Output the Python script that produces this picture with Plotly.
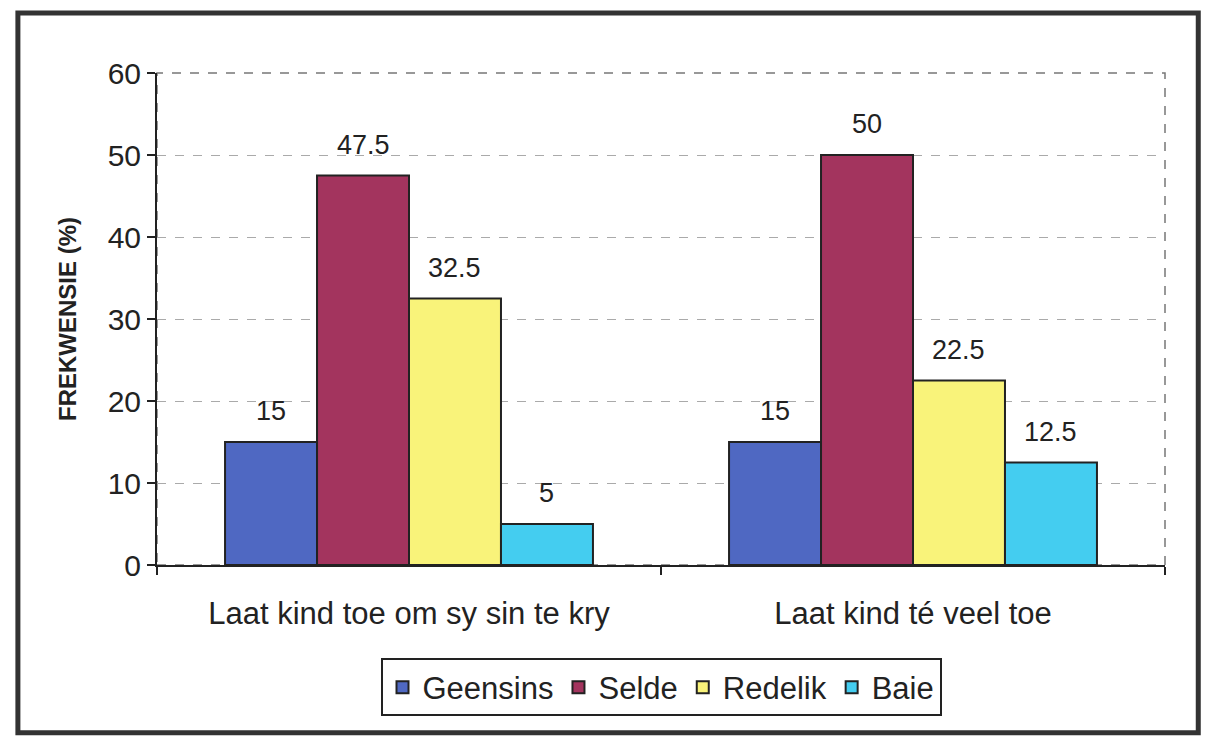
import plotly.graph_objects as go

categories = ["Laat kind toe om sy sin te kry", "Laat kind té veel toe"]
series_names = ["Geensins", "Selde", "Redelik", "Baie"]
geensins = [15, 15]
selde = [47.5, 50]
redelik = [32.5, 22.5]
baie = [5, 12.5]
y_ticks = [0, 10, 20, 30, 40, 50, 60]

colors = ["#4F68C2", "#A3345E", "#F9F37A", "#44CDF0"]
values = [geensins, selde, redelik, baie]

FONT = "Liberation Sans, Arial, sans-serif"
W, H = 1206, 737
ML, MR, MT, MB = 157, 41, 73, 172
BARGAP = 0.27

fig = go.Figure()
for name, vals, col in zip(series_names, values, colors):
    fig.add_trace(go.Bar(
        name=name, x=categories, y=vals,
        marker=dict(color=col, line=dict(color="#222222", width=2)),
        cliponaxis=False,
    ))

# value labels above the bars
plot_w = W - ML - MR
cat_w = plot_w / len(categories)
bar_w = cat_w * (1 - BARGAP) / len(series_names)
for si, vals in enumerate(values):
    shift = (si - (len(series_names) - 1) / 2) * bar_w
    for ci, v in enumerate(vals):
        fig.add_annotation(x=categories[ci], y=v, text=f"{v:g}", showarrow=False,
                           xshift=shift, yshift=14, yanchor="bottom",
                           font=dict(size=27, color="#222222", family=FONT))

fig.update_layout(
    barmode="group", bargap=BARGAP, bargroupgap=0,
    width=W, height=H,
    margin=dict(l=ML, r=MR, t=MT, b=MB),
    paper_bgcolor="white", plot_bgcolor="white",
    font=dict(family=FONT, color="#222222", size=30),
    showlegend=True,
    legend=dict(orientation="h", x=0.5, xanchor="center", y=-0.19, yanchor="top",
                bordercolor="#222222", borderwidth=2, font=dict(size=31),
                itemwidth=30, traceorder="normal", tracegroupgap=0),
)
fig.update_yaxes(
    range=[0, 60], tickvals=y_ticks, ticks="outside", ticklen=8, tickwidth=2,
    tickcolor="#222222", showline=True, linecolor="#222222", linewidth=2,
    showgrid=True, gridcolor="#AAAAAA", griddash="dash", gridwidth=1,
    tickfont=dict(size=30), zeroline=False,
    title=dict(text="<b>FREKWENSIE (%)</b>", font=dict(size=24), standoff=24),
)
fig.update_xaxes(
    showline=True, linecolor="#222222", linewidth=2, ticks="outside",
    tickson="boundaries", ticklen=8, tickwidth=2, tickcolor="#222222",
    tickfont=dict(size=31), showgrid=False, ticklabelstandoff=20,
)
# plot-area dashed frame (top/right)
fig.add_shape(type="rect", xref="paper", yref="paper", x0=0, x1=1, y0=0, y1=1,
              line=dict(color="#777777", width=1.5, dash="dash"), layer="below")
# outer frame
fig.add_shape(type="rect", xref="paper", yref="paper",
              x0=-0.138, x1=1.033, y0=-0.341, y1=1.122,
              line=dict(color="#333333", width=5))

fig.write_html("out.html", config={"displayModeBar": False},
               post_script="document.body.style.margin='0';")
